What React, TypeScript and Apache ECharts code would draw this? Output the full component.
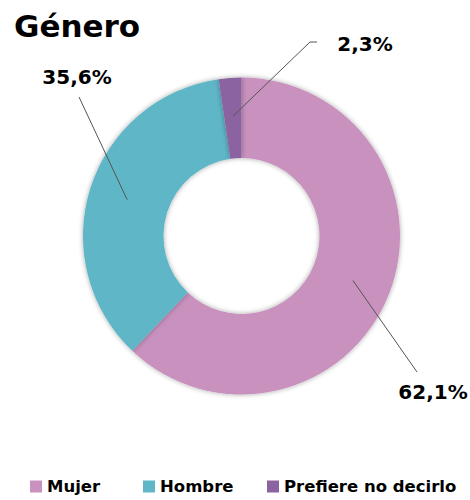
import React, { useEffect, useRef } from "react";
import * as echarts from "echarts";

const categories = ["Mujer", "Hombre", "Prefiere no decirlo"];
const values = [62.1, 35.6, 2.3];
const colors = ["#C891BE", "#5EB6C7", "#8C63A1"];

// label placement (layout only): label centre and leader-line end offsets
const labelLayoutSpec = [
  { x: 433, y: 392, ends: [[417, 372]] },
  { x: 77, y: 77, ends: [[79, 97]] },
  { x: 365, y: 44, ends: [[310, 42], [317, 42]] },
];

const fmt = (v: number) => v.toFixed(1).replace(".", ",") + "%";

export default function App() {
  const ref = useRef<HTMLDivElement>(null);
  useEffect(() => {
    document.body.style.margin = "0";
    const chart = echarts.init(ref.current!, undefined, { renderer: "svg" });
    const data = categories.map((name, i) => ({ name, value: values[i] }));
    const legendLefts = [30, 143, 267];
    chart.setOption({
      animation: false,
      title: {
        text: "Género",
        left: 14,
        top: 10,
        padding: 0,
        textStyle: {
          fontFamily: "DejaVu Sans",
          fontWeight: "bold",
          fontSize: 31,
          color: "#000",
        },
      },
      color: colors,
      legend: categories.map((c, i) => ({
        data: [c],
        left: legendLefts[i],
        top: 478,
        padding: 0,
        itemWidth: 12,
        itemHeight: 12,
        icon: "rect",
        itemGap: 0,
        selectedMode: false,
        textStyle: {
          fontFamily: "DejaVu Sans",
          fontWeight: "bold",
          fontSize: 16.5,
          color: "#000",
        },
      })),
      series: [
        {
          type: "pie",
          z: 1,
          center: [241.5, 236],
          radius: [78, 158.5],
          startAngle: 90,
          clockwise: true,
          data,
          label: { show: false },
          labelLine: { show: false },
          silent: true,
          itemStyle: {
            shadowBlur: 5,
            shadowColor: "rgba(0,0,0,0.35)",
          },
        },
        {
          type: "pie",
          z: 5,
          zlevel: 0,
          center: [241.5, 236],
          radius: [0, 120],
          startAngle: 90,
          clockwise: true,
          data,
          silent: true,
          itemStyle: { color: "rgba(0,0,0,0)" },
          label: {
            show: true,
            position: "outside",
            formatter: (p: any) => fmt(p.value),
            fontFamily: "DejaVu Sans",
            fontWeight: "bold",
            fontSize: 20,
            color: "#000",
          },
          labelLine: {
            show: true,
            showAbove: true,
            length: 10,
            length2: 10,
            lineStyle: { color: "#555", width: 1 },
          },
          labelLayout: (p: any) => {
            const spec = labelLayoutSpec[p.dataIndex];
            const start = p.labelLinePoints ? p.labelLinePoints[0] : spec.ends[0];
            const pts = [start, ...spec.ends];
            if (pts.length === 2) pts.push(spec.ends[0]);
            return {
              x: spec.x,
              y: spec.y,
              align: "center",
              verticalAlign: "middle",
              labelLinePoints: pts,
            };
          },
        },
      ],
    });
    return () => chart.dispose();
  }, []);
  return <div ref={ref} style={{ width: 470, height: 500 }} />;
}
